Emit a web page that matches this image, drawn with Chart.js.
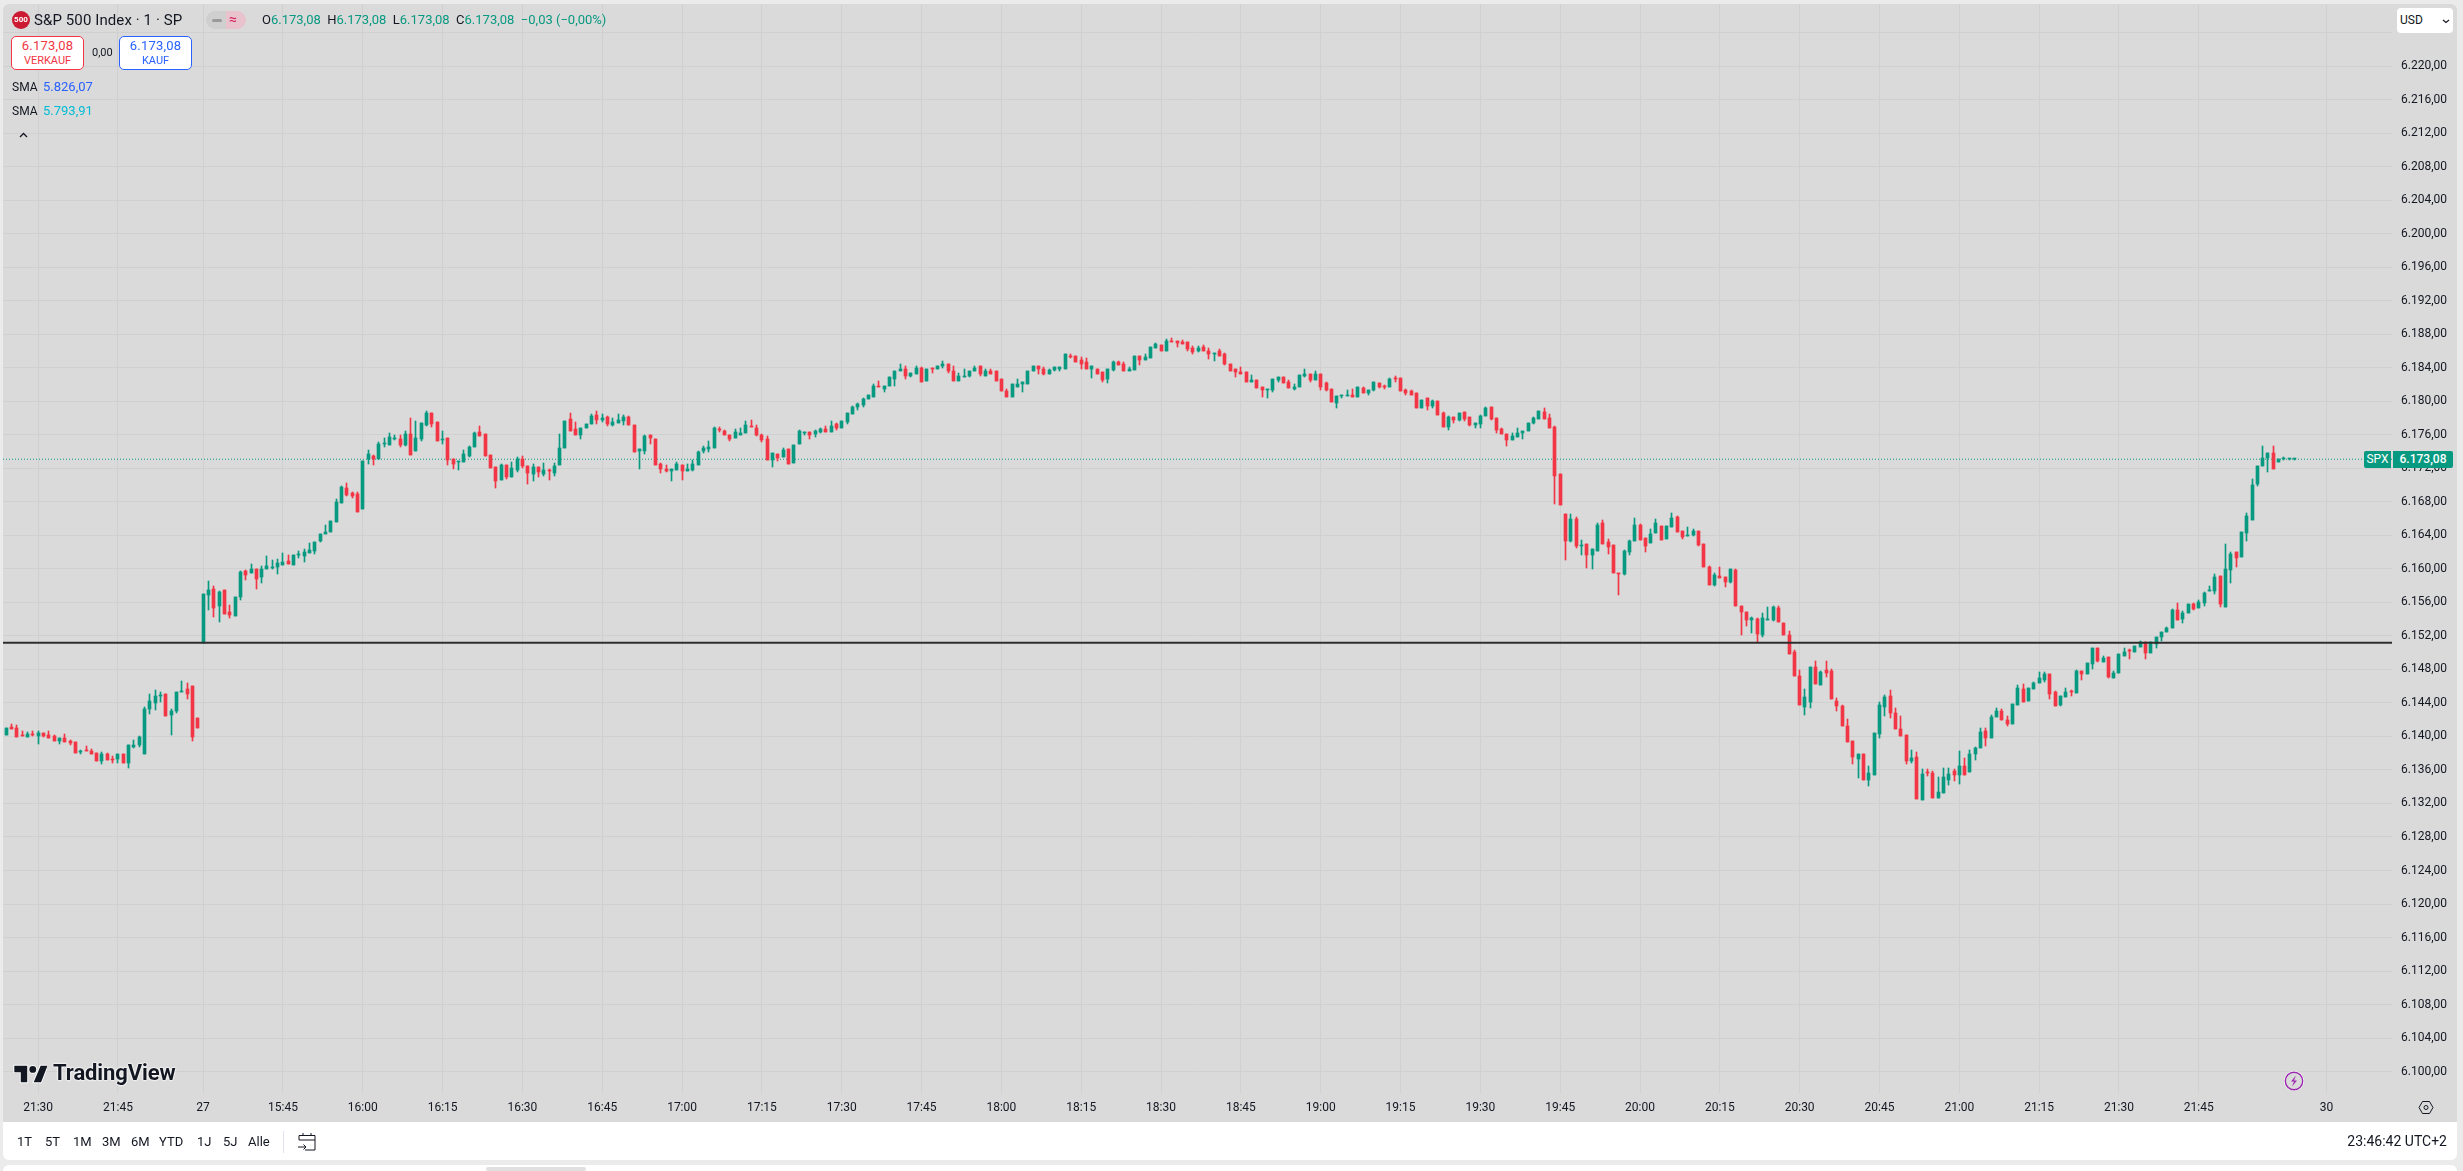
<!DOCTYPE html>
<html lang="de">
<head>
<meta charset="utf-8">
<title>S&amp;P 500 Index</title>
<script src="https://cdn.jsdelivr.net/npm/chart.js@4"></script>
<style>
  html, body { margin: 0; padding: 0; width: 2463px; height: 1171px; overflow: hidden; background: #ebebeb; font-family: Roboto, sans-serif; color: #131722; }
  div, span, svg { position: absolute; white-space: nowrap; }
  span.in { position: static; }
  canvas { position: absolute; left: 0; top: 0; }
  #pane { left: 3px; top: 4px; width: 2454px; height: 1118px; background: #dadada; border-radius: 6px 6px 0 0; }
  #bar { left: 3px; top: 1122px; width: 2454px; height: 38px; background: #fff; border-radius: 0 0 6px 6px; }
  #panel { left: 3px; top: 1165px; width: 2454px; height: 10px; background: #fff; border-radius: 6px 6px 0 0; }
  #thumb { left: 486px; top: 1167px; width: 100px; height: 4px; background: #e0e0e0; border-radius: 2px; }
  .box { width: 71px; height: 32px; background: #fff; border-radius: 5px; border: 1px solid; text-align: center; font-size: 12.5px; line-height: 14px; }
  .box b { font-weight: 400; display: block; margin-top: 2px; font-size: 13px; letter-spacing: .2px; }
  .box i { font-style: normal; display: block; font-size: 11px; margin-top: 1px; }
  .range { top: 1134px; font-size: 13px; line-height: 16px; }
</style>
</head>
<body>
<div id="pane"></div>
<div id="bar"></div>
<div id="panel"></div>
<div id="thumb"></div>
<canvas id="chart" width="2463" height="1171"></canvas>

<div style="left:12px;top:11px;width:18px;height:18px;border-radius:50%;background:#cc1a33;color:#fff;font-size:8px;font-weight:700;line-height:18px;text-align:center">500</div>
<div style="left:34px;top:11px;font-size:15px;line-height:18px;letter-spacing:.1px">S&amp;P 500 Index · 1 · SP</div>
<div style="left:206px;top:11px;width:20px;height:18px;background:#cfcfcf;border-radius:9px 0 0 9px"></div>
<div style="left:226px;top:11px;width:20px;height:18px;background:#e8c3cd;border-radius:0 9px 9px 0"></div>
<div style="left:212px;top:19px;width:10px;height:3px;background:#9a9a9a;border-radius:2px"></div>
<div style="left:229px;top:10px;font-size:14px;line-height:18px;color:#d81e5b">≈</div>
<div style="left:262px;top:12px;font-size:13px;line-height:16px;color:#089981"><span class="in" style="color:#131722">O</span>6.173,08 &nbsp;<span class="in" style="color:#131722">H</span>6.173,08 &nbsp;<span class="in" style="color:#131722">L</span>6.173,08 &nbsp;<span class="in" style="color:#131722">C</span>6.173,08 &nbsp;−0,03 (−0,00%)</div>

<div class="box" style="left:11px;top:36px;border-color:#f23645;color:#f23645"><b>6.173,08</b><i>VERKAUF</i></div>
<div style="left:92px;top:46px;font-size:11px;line-height:14px">0,00</div>
<div class="box" style="left:119px;top:36px;border-color:#2962ff;color:#2962ff"><b>6.173,08</b><i>KAUF</i></div>
<div style="left:12px;top:79px;font-size:12px;line-height:16px">SMA</div>
<div style="left:43px;top:79px;font-size:13px;line-height:16px;color:#2962ff">5.826,07</div>
<div style="left:12px;top:103px;font-size:12px;line-height:16px">SMA</div>
<div style="left:43px;top:103px;font-size:13px;line-height:16px;color:#00bcd4">5.793,91</div>
<svg style="left:19px;top:132px" width="9" height="6" viewBox="0 0 9 6"><path d="M1 5l3.5-3.5L8 5" fill="none" stroke="#131722" stroke-width="1.3"/></svg>

<div style="left:2397px;top:8px;width:56px;height:25px;background:#fff;border-radius:4px"></div>
<div style="left:2400px;top:13px;font-size:12px;line-height:15px;color:#131722">USD</div>
<svg style="left:2442px;top:19px" width="8" height="5" viewBox="0 0 8 5"><path d="M1 1l3 2.5L7 1" fill="none" stroke="#131722" stroke-width="1.2"/></svg>

<div style="left:2364px;top:451px;width:27px;height:17px;background:#089981;border-radius:2px 0 0 2px;color:#fff;font-size:12px;line-height:17px;text-align:center">SPX</div>
<div style="left:2393px;top:451px;width:60px;height:17px;background:#089981;border-radius:0 2px 2px 0;color:#fff;font-size:12px;font-weight:500;line-height:17px;text-align:center">6.173,08</div>

<svg style="left:13px;top:1062px" width="34" height="24" viewBox="0 0 36 26"><path d="M15 4H1v7h7v11h7V4Zm14.5 0L22 22h8L37 4Z" fill="#131722" stroke="#fff" stroke-width="2" paint-order="stroke"/><circle cx="21" cy="8" r="3.7" fill="#131722" stroke="#fff" stroke-width="2" paint-order="stroke"/></svg>
<div style="left:53px;top:1060px;font-size:22px;font-weight:700;line-height:26px;letter-spacing:-.1px;text-shadow:0 0 2px #fff,0 0 2px #fff,0 0 2px #fff">TradingView</div>

<svg style="left:2283px;top:1070px" width="22" height="22" viewBox="0 0 22 22"><circle cx="11" cy="11" r="10" fill="#fff"/><circle cx="11" cy="11" r="8.7" fill="#dadada" stroke="#9c27b0" stroke-width="1.4"/><path d="M13 5.5 8 11.5h3L9 16.5l5-6h-3Z" fill="#9c27b0"/></svg>
<svg style="left:2418px;top:1100px" width="16" height="15" viewBox="0 0 16 15"><path d="M4.5 1.5h7L15 7.5l-3.5 6h-7L1 7.5Z" fill="none" stroke="#131722"/><circle cx="8" cy="7.5" r="2" fill="none" stroke="#131722"/></svg>

<div class="range" style="left:17px">1T</div>
<div class="range" style="left:45px">5T</div>
<div class="range" style="left:73px">1M</div>
<div class="range" style="left:102px">3M</div>
<div class="range" style="left:131px">6M</div>
<div class="range" style="left:159px">YTD</div>
<div class="range" style="left:197px">1J</div>
<div class="range" style="left:223px">5J</div>
<div class="range" style="left:248px">Alle</div>
<div style="left:283px;top:1131px;width:1px;height:22px;background:#e0e3eb"></div>
<svg style="left:297px;top:1131px" width="20" height="21" viewBox="0 0 20 21"><path d="M2 9V4.5h16V19H8M2 9h16M6 2v3M14 2v3M1 16h8M6.5 13.5 9 16l-2.5 2.5" fill="none" stroke="#131722"/></svg>
<div style="right:16px;top:1133px;font-size:14px;line-height:17px">23:46:42 UTC+2</div>

<script>
const GREEN = '#089981', RED = '#f23645'

// 1 minute bars: 21:24-22:00, then 15:30 until the last print
const opens = [
  6140.2,6141.1,6141.0,6140.15,6139.95,6140.3,6140.05,6140.4,6140.2,6140.05,
  6139.45,6139.8,6139.45,6139.35,6138.2,6138.4,6138.3,6138.05,6137.1,6137.9,
  6137.3,6137.3,6137.9,6136.85,6138.7,6139.0,6137.9,6143.3,6144.0,6144.85,
  6145.1,6142.55,6143.05,6145.3,6145.65,6146.0,6142.2,6151.1,6156.85,6157.55,
  6155.55,6157.45,6154.85,6154.35,6156.6,6159.7,6159.5,6159.95,6159.0,6159.95,
  6160.05,6160.2,6160.45,6160.9,6160.45,6161.65,6161.5,6161.85,6162.1,6163.3,
  6164.15,6164.4,6165.55,6167.85,6169.65,6169.05,6168.9,6167.1,6173.1,6173.45,
  6173.1,6174.9,6174.75,6175.5,6175.5,6174.75,6176.1,6174.05,6175.5,6177.15,
  6178.6,6177.5,6175.35,6175.6,6173.1,6172.75,6172.75,6173.45,6174.5,6176.3,
  6176.1,6173.55,6172.15,6170.6,6172.4,6170.95,6171.8,6173.1,6172.25,6171.3,
  6172.15,6171.3,6171.8,6171.4,6172.4,6174.4,6177.85,6176.65,6175.95,6176.8,
  6177.25,6178.35,6177.75,6178.15,6177.15,6177.4,6177.65,6178.15,6177.15,6174.05,
  6174.05,6176.0,6175.5,6172.5,6171.9,6171.7,6171.8,6172.4,6171.7,6171.8,
  6172.4,6174.05,6174.3,6174.45,6176.7,6176.45,6176.0,6175.6,6176.0,6176.2,
  6177.05,6176.8,6176.0,6175.5,6173.0,6173.7,6173.35,6174.3,6172.65,6174.9,
  6176.2,6176.35,6176.1,6176.35,6176.7,6176.35,6177.3,6176.8,6177.55,6178.5,
  6179.3,6179.55,6180.3,6180.55,6181.75,6181.5,6181.85,6182.6,6183.55,6183.9,
  6182.95,6183.3,6184.0,6182.45,6184.0,6183.9,6184.15,6184.5,6183.65,6182.45,
  6182.85,6182.95,6183.55,6184.15,6183.05,6183.65,6183.55,6182.6,6181.25,6180.55,
  6181.75,6182.0,6182.0,6183.55,6184.15,6183.9,6183.2,6183.7,6183.9,6183.9,
  6185.45,6185.35,6184.9,6184.65,6183.8,6183.9,6183.45,6182.6,6183.7,6184.65,
  6184.4,6183.55,6183.7,6185.35,6184.9,6185.1,6186.3,6186.65,6186.05,6187.15,
  6187.15,6187.05,6187.05,6186.3,6185.95,6186.45,6186.05,6185.6,6185.95,6185.6,
  6184.4,6183.8,6183.45,6183.45,6182.35,6182.5,6181.65,6181.3,6181.3,6182.5,
  6182.85,6182.35,6181.4,6181.65,6182.95,6183.2,6182.5,6183.3,6182.15,6181.4,
  6179.75,6180.6,6180.6,6180.8,6180.45,6181.55,6180.95,6181.3,6182.15,6181.75,
  6181.75,6182.75,6182.75,6181.3,6181.2,6180.95,6179.25,6180.35,6179.4,6180.0,
  6178.6,6176.95,6178.15,6177.75,6178.7,6178.15,6177.15,6177.3,6178.25,6179.3,
  6178.0,6176.7,6176.1,6175.4,6175.75,6176.2,6176.45,6177.4,6177.9,6178.7,
  6178.0,6176.95,6171.3,6166.55,6163.3,6165.95,6162.75,6162.95,6161.65,6162.15,
  6165.45,6163.2,6162.85,6159.5,6159.4,6162.0,6163.3,6165.25,6163.7,6163.1,
  6164.3,6165.1,6163.55,6165.0,6166.2,6164.5,6163.9,6164.0,6164.5,6162.95,
  6160.2,6158.05,6159.15,6159.05,6158.45,6159.85,6155.55,6154.85,6153.9,6154.0,
  6152.1,6153.9,6153.9,6155.3,6153.55,6152.1,6150.05,6147.2,6143.5,6144.1,
  6148.3,6146.15,6147.9,6147.8,6144.2,6143.6,6141.25,6139.45,6137.3,6137.9,
  6134.8,6135.4,6140.3,6143.5,6144.8,6142.8,6140.9,6140.15,6137.05,6137.55,
  6132.4,6135.75,6135.6,6132.65,6133.25,6134.8,6135.85,6135.4,6136.45,6135.75,
  6137.9,6138.6,6140.65,6139.8,6142.3,6143.0,6141.95,6141.45,6143.75,6145.65,
  6144.2,6145.65,6146.35,6146.75,6147.45,6145.3,6143.75,6144.7,6145.4,6145.15,
  6147.8,6147.45,6148.65,6150.55,6148.9,6149.45,6146.95,6147.55,6149.55,6150.3,
  6150.05,6150.65,6151.25,6149.95,6151.0,6151.85,6152.45,6152.9,6155.05,6154.0,
  6154.7,6155.8,6155.3,6155.9,6157.35,6157.35,6159.1,6155.4,6159.85,6162.0,
  6161.4,6164.25,6165.8,6170.1,6172.25,6173.2,6173.8,6172.75,6173.1,6173.05,6173.05
]
const highs = [
  6141.0,6141.5,6141.4,6140.65,6140.55,6140.65,6140.65,6140.4,6140.65,6140.15,
  6139.8,6140.3,6139.6,6139.35,6138.4,6138.85,6138.5,6138.05,6138.15,6138.0,
  6137.65,6137.9,6137.9,6139.0,6139.6,6140.05,6143.5,6145.1,6145.55,6145.3,
  6145.1,6143.3,6145.3,6146.6,6146.4,6146.0,6142.2,6156.97,6158.5,6157.95,
  6157.35,6157.45,6155.65,6156.6,6159.7,6159.85,6160.55,6159.95,6160.3,6161.5,
  6161.05,6161.15,6161.85,6161.65,6161.65,6162.1,6162.35,6163.05,6163.2,6164.15,
  6165.2,6165.7,6168.3,6169.85,6170.25,6169.15,6169.15,6172.85,6174.15,6173.55,
  6175.1,6175.6,6176.2,6175.95,6175.95,6176.45,6178.0,6177.65,6177.4,6178.8,
  6178.6,6177.5,6176.45,6175.6,6173.1,6172.85,6174.15,6174.65,6176.3,6177.05,
  6176.1,6173.55,6172.15,6172.5,6172.4,6172.75,6173.35,6173.45,6172.25,6172.5,
  6172.15,6172.6,6171.9,6172.6,6176.1,6177.65,6178.6,6177.5,6176.8,6177.25,
  6178.45,6178.8,6178.5,6178.25,6178.0,6178.5,6178.35,6178.25,6177.15,6174.3,
  6176.0,6176.0,6175.5,6172.65,6172.4,6171.9,6172.75,6172.4,6172.5,6173.0,
  6174.05,6174.65,6175.25,6176.95,6176.95,6176.6,6176.0,6176.7,6176.8,6177.65,
  6177.75,6177.15,6176.1,6175.85,6173.85,6173.7,6174.45,6174.3,6174.8,6176.6,
  6176.35,6176.35,6176.6,6176.8,6177.05,6177.65,6177.4,6177.65,6178.6,6179.45,
  6179.8,6180.4,6180.75,6182.1,6182.45,6181.85,6182.85,6183.65,6184.4,6184.15,
  6183.4,6184.25,6184.1,6183.9,6184.0,6184.25,6184.75,6184.5,6184.15,6183.4,
  6183.8,6183.65,6184.25,6184.25,6183.9,6183.8,6183.55,6182.6,6181.4,6182.1,
  6182.6,6182.25,6183.65,6184.15,6184.15,6184.05,6183.9,6184.05,6184.05,6185.6,
  6185.6,6185.45,6185.25,6185.1,6184.15,6183.9,6183.45,6183.8,6184.75,6184.75,
  6184.65,6184.05,6185.45,6185.35,6185.6,6186.45,6187.0,6186.65,6187.4,6187.6,
  6187.15,6187.25,6187.05,6186.55,6186.55,6186.65,6186.3,6185.7,6186.2,6185.7,
  6184.5,6183.8,6184.05,6183.45,6183.1,6182.5,6181.65,6181.4,6182.6,6182.85,
  6182.85,6182.5,6182.0,6183.1,6183.8,6183.3,6183.55,6183.3,6182.35,6181.4,
  6180.6,6180.8,6181.3,6181.4,6181.65,6181.75,6181.3,6182.35,6182.15,6181.9,
  6182.75,6182.95,6182.75,6181.4,6181.3,6180.95,6180.2,6180.35,6180.1,6180.0,
  6178.7,6178.25,6178.15,6178.6,6178.7,6178.15,6177.4,6178.35,6179.3,6179.3,
  6178.0,6176.8,6176.1,6176.2,6176.8,6176.45,6177.4,6178.15,6178.85,6179.2,
  6178.5,6177.05,6171.3,6166.55,6166.55,6166.2,6163.45,6162.95,6162.35,6165.45,
  6165.85,6163.55,6162.85,6159.5,6162.25,6163.45,6166.05,6165.35,6163.7,6164.75,
  6165.95,6165.1,6165.1,6166.65,6166.3,6164.5,6165.0,6164.75,6164.5,6162.95,
  6160.35,6159.5,6160.2,6159.05,6160.0,6160.0,6155.55,6154.85,6154.25,6154.15,
  6154.75,6155.45,6155.55,6155.55,6153.55,6152.6,6150.3,6147.9,6145.65,6148.3,
  6149.0,6147.8,6149.0,6148.05,6144.6,6143.75,6142.05,6139.45,6137.9,6137.9,
  6136.45,6140.4,6144.1,6144.95,6145.55,6143.4,6142.45,6140.15,6138.35,6138.15,
  6136.1,6136.1,6135.85,6135.15,6136.2,6136.2,6136.1,6138.25,6137.4,6138.35,
  6138.75,6141.0,6141.0,6142.55,6143.4,6143.25,6142.45,6143.85,6146.15,6146.25,
  6145.75,6146.5,6147.7,6147.7,6147.45,6145.4,6144.8,6145.75,6145.55,6147.9,
  6147.8,6148.75,6150.55,6150.55,6149.6,6149.45,6147.8,6149.85,6150.55,6150.4,
  6150.85,6151.35,6151.25,6151.25,6151.85,6152.45,6153.05,6155.2,6155.9,6154.95,
  6155.8,6155.9,6156.25,6157.2,6157.95,6159.35,6159.1,6162.95,6162.0,6162.0,
  6164.4,6166.65,6170.7,6172.25,6174.65,6173.8,6174.65,6173.1,6173.3,6173.15,6173.15
]
const lows = [
  6140.2,6140.9,6139.9,6140.0,6139.95,6140.05,6139.1,6139.95,6139.8,6139.45,
  6139.1,6139.35,6139.0,6138.05,6137.9,6138.3,6137.9,6137.1,6136.7,6137.2,
  6136.85,6136.85,6136.85,6136.25,6138.65,6138.75,6137.9,6142.7,6143.15,6144.1,
  6142.45,6140.2,6142.8,6145.3,6144.5,6139.45,6141.0,6151.1,6155.05,6154.25,
  6153.65,6154.6,6154.1,6154.35,6156.25,6158.65,6159.5,6157.55,6158.35,6159.95,
  6159.95,6159.35,6160.45,6160.55,6160.45,6161.25,6160.8,6161.85,6161.75,6163.2,
  6164.15,6164.4,6165.55,6167.85,6168.7,6168.45,6166.75,6167.1,6172.5,6172.4,
  6173.1,6174.55,6174.75,6175.35,6174.5,6174.65,6173.55,6174.05,6175.25,6177.05,
  6176.9,6175.25,6174.9,6172.4,6171.9,6171.8,6172.75,6173.35,6174.5,6175.85,
  6173.45,6172.0,6169.6,6170.6,6170.7,6170.95,6171.55,6172.0,6170.1,6170.45,
  6170.95,6171.05,6170.6,6171.05,6172.4,6174.4,6176.45,6175.95,6175.5,6176.8,
  6177.25,6177.25,6177.5,6177.05,6177.05,6177.4,6177.15,6177.15,6173.95,6171.9,
  6173.7,6174.9,6172.4,6171.45,6171.55,6170.5,6171.8,6170.6,6171.7,6171.7,
  6172.4,6173.85,6173.95,6174.45,6176.35,6176.0,6175.25,6175.6,6176.0,6176.2,
  6176.95,6175.85,6175.15,6173.0,6172.15,6172.9,6173.35,6172.5,6172.65,6174.9,
  6176.0,6175.5,6175.75,6176.2,6176.35,6176.35,6176.6,6176.8,6177.3,6178.5,
  6178.95,6179.3,6180.3,6180.55,6181.65,6181.05,6181.85,6181.85,6183.55,6182.7,
  6182.85,6183.3,6182.35,6182.45,6183.4,6183.8,6184.0,6183.4,6182.45,6182.45,
  6182.85,6182.85,6183.55,6183.05,6183.05,6183.2,6182.45,6181.25,6180.45,6180.55,
  6181.65,6181.05,6182.0,6183.55,6183.3,6183.1,6183.2,6183.55,6183.55,6183.8,
  6185.1,6184.65,6183.9,6183.8,6182.75,6183.3,6182.25,6182.15,6183.55,6184.3,
  6183.55,6183.55,6183.7,6184.3,6184.9,6185.1,6186.3,6185.95,6186.05,6187.05,
  6186.45,6186.8,6186.05,6185.6,6185.85,6185.95,6185.0,6184.75,6185.35,6184.3,
  6183.55,6182.85,6183.3,6182.35,6182.35,6181.55,6180.45,6180.35,6181.05,6182.25,
  6182.15,6181.55,6181.3,6181.65,6182.85,6182.25,6182.5,6181.3,6181.2,6179.85,
  6179.15,6180.35,6180.6,6180.45,6180.45,6180.95,6180.8,6181.2,6181.55,6181.4,
  6181.75,6182.25,6181.2,6180.8,6180.8,6179.25,6179.25,6179.0,6179.15,6178.4,
  6176.95,6176.6,6177.4,6177.65,6177.65,6177.05,6176.8,6176.8,6178.25,6177.75,
  6176.2,6176.1,6174.65,6175.4,6175.75,6175.5,6176.45,6177.3,6177.9,6177.9,
  6176.8,6167.75,6167.6,6161.05,6163.2,6162.5,6161.65,6160.1,6160.0,6162.15,
  6162.95,6161.75,6159.5,6156.9,6159.25,6161.65,6163.3,6163.45,6162.0,6163.1,
  6164.3,6163.45,6163.55,6165.0,6164.4,6163.55,6163.9,6163.9,6162.75,6160.2,
  6158.05,6157.95,6158.9,6157.85,6158.3,6155.55,6152.1,6153.15,6152.35,6151.25,
  6151.85,6153.9,6153.75,6153.65,6152.1,6149.85,6147.2,6143.75,6142.55,6143.4,
  6146.25,6146.15,6147.1,6144.45,6143.0,6141.25,6139.3,6136.7,6135.0,6134.8,
  6134.05,6135.4,6139.8,6142.45,6142.2,6140.9,6140.05,6136.7,6136.8,6132.5,
  6132.4,6135.25,6132.65,6132.65,6133.25,6134.2,6134.65,6134.3,6135.4,6135.75,
  6137.15,6138.6,6138.85,6139.8,6142.3,6141.95,6141.25,6141.45,6143.75,6144.1,
  6144.2,6145.65,6146.35,6146.5,6144.45,6143.6,6143.6,6144.7,6144.8,6145.15,
  6146.75,6147.45,6148.05,6148.9,6148.9,6146.95,6146.95,6147.55,6149.55,6149.2,
  6150.05,6150.65,6149.2,6149.95,6150.55,6151.35,6152.45,6152.9,6153.85,6153.5,
  6154.7,6155.05,6155.3,6155.55,6157.35,6156.95,6155.4,6155.4,6158.3,6160.2,
  6161.4,6163.3,6165.8,6169.85,6172.25,6171.55,6171.9,6172.75,6173.0,6173.0,6173.0
]
const closes = [
  6141.0,6140.9,6139.9,6140.05,6140.3,6140.15,6140.4,6140.05,6139.8,6139.45,
  6139.8,6139.35,6139.2,6138.05,6138.3,6138.3,6137.9,6137.1,6137.9,6137.2,
  6137.2,6137.9,6136.85,6139.0,6139.0,6139.95,6143.3,6144.25,6144.85,6144.95,
  6142.45,6143.05,6145.3,6145.45,6145.1,6139.95,6141.0,6156.97,6157.45,6155.3,
  6157.2,6154.6,6154.45,6156.6,6159.6,6159.25,6159.95,6158.75,6159.95,6160.3,
  6160.25,6160.7,6160.8,6160.55,6161.65,6161.75,6162.0,6162.25,6163.2,6164.15,
  6164.4,6165.7,6167.95,6169.75,6168.8,6168.7,6166.75,6172.85,6173.7,6173.1,
  6174.9,6175.0,6175.7,6175.6,6174.75,6176.1,6173.55,6175.6,6177.4,6178.6,
  6177.25,6175.25,6175.5,6173.0,6172.5,6172.85,6173.7,6174.5,6176.2,6175.85,
  6173.45,6172.0,6170.45,6172.4,6170.95,6172.0,6173.1,6172.25,6171.4,6172.15,
  6171.55,6171.8,6171.65,6172.25,6174.4,6177.65,6176.45,6175.95,6176.8,6177.25,
  6178.2,6177.75,6178.0,6177.3,6177.55,6177.75,6178.15,6177.15,6173.95,6174.3,
  6175.85,6175.6,6172.4,6171.9,6171.7,6171.9,6172.5,6171.7,6171.9,6172.5,
  6173.95,6174.45,6174.55,6176.8,6176.6,6176.0,6175.5,6176.35,6176.2,6177.15,
  6176.95,6176.0,6175.4,6173.0,6173.85,6173.25,6174.2,6172.5,6174.8,6176.45,
  6176.35,6176.0,6176.45,6176.7,6176.35,6177.05,6176.8,6177.65,6178.6,6179.3,
  6179.7,6180.3,6180.75,6181.85,6181.65,6181.85,6182.85,6183.65,6183.9,6182.95,
  6183.4,6184.0,6182.35,6183.8,6183.9,6184.25,6184.5,6183.55,6182.45,6182.95,
  6182.95,6183.65,6184.0,6183.2,6183.65,6183.3,6182.45,6181.25,6180.45,6182.0,
  6182.1,6182.25,6183.65,6184.15,6183.8,6183.2,6183.7,6184.05,6184.05,6185.6,
  6185.25,6184.65,6184.5,6183.8,6184.15,6183.3,6182.5,6183.8,6184.65,6184.3,
  6183.55,6183.9,6185.35,6184.9,6185.25,6186.45,6186.8,6185.95,6187.15,6187.05,
  6186.9,6186.8,6186.2,6185.85,6186.3,6185.95,6185.6,6185.7,6185.35,6184.4,
  6183.55,6183.45,6183.3,6182.35,6182.5,6181.55,6181.3,6181.4,6182.6,6182.85,
  6182.15,6181.55,6181.75,6183.1,6183.2,6182.5,6183.3,6181.75,6181.3,6179.85,
  6180.6,6180.7,6180.8,6180.45,6181.65,6180.95,6181.3,6182.25,6181.65,6181.65,
  6182.6,6182.6,6181.2,6180.95,6180.8,6179.25,6180.2,6179.4,6180.0,6178.4,
  6176.95,6178.15,6177.75,6178.6,6177.9,6177.15,6177.4,6178.25,6179.2,6177.9,
  6176.6,6176.1,6175.4,6175.85,6176.2,6176.45,6177.4,6178.0,6178.85,6177.9,
  6176.8,6171.1,6167.6,6163.3,6165.95,6162.75,6162.85,6161.65,6162.35,6165.25,
  6162.95,6162.6,6159.5,6159.4,6162.15,6163.3,6165.25,6163.45,6162.75,6164.15,
  6165.45,6163.45,6165.1,6166.05,6164.4,6163.8,6164.0,6164.5,6162.85,6160.2,
  6158.05,6159.25,6158.9,6158.45,6160.0,6155.55,6154.85,6153.9,6154.15,6152.2,
  6154.15,6154.0,6155.45,6153.65,6152.1,6149.85,6147.2,6143.75,6144.7,6148.3,
  6146.25,6147.7,6147.55,6144.45,6143.6,6141.25,6139.3,6137.55,6137.9,6134.8,
  6135.6,6140.4,6143.75,6144.7,6142.8,6140.9,6140.05,6137.05,6137.4,6132.5,
  6135.5,6135.6,6132.65,6133.35,6135.15,6135.5,6135.4,6136.45,6135.4,6137.9,
  6138.6,6140.5,6139.8,6142.3,6143.0,6141.95,6141.45,6143.85,6145.75,6144.1,
  6145.75,6146.35,6146.95,6147.45,6145.05,6143.6,6144.8,6145.3,6145.3,6147.8,
  6147.45,6148.75,6150.55,6149.0,6149.35,6147.1,6147.55,6149.85,6150.05,6150.15,
  6150.75,6151.25,6149.95,6151.25,6151.85,6152.45,6152.9,6155.05,6153.85,6154.7,
  6155.8,6155.2,6156.0,6157.1,6157.45,6159.0,6155.8,6159.95,6161.75,6161.25,
  6164.4,6166.3,6170.0,6172.25,6173.2,6173.8,6171.9,6173.1,6173.2,6173.1,6173.08
]

const lastPrice = 6173.08
const drawnLevel = 6151.18

const xTickBars = [6,21,37,52,67,82,97,112,127,142,157,172,187,202,217,232,247,262,277,292,307,322,337,352,367,382,397,412,436]
const xTickLabels = ['21:30','21:45','27','15:45','16:00','16:15','16:30','16:45','17:00','17:15','17:30','17:45','18:00','18:15','18:30','18:45','19:00','19:15','19:30','19:45','20:00','20:15','20:30','20:45','21:00','21:15','21:30','21:45','30']
const yTickValues = [6100,6104,6108,6112,6116,6120,6124,6128,6132,6136,6140,6144,6148,6152,6156,6160,6164,6168,6172,6176,6180,6184,6188,6192,6196,6200,6204,6208,6212,6216,6220,6224]

const barColors = opens.map((o, i) => closes[i] >= o ? GREEN : RED)
const axisFont = { family: 'Roboto', size: 12 }
const formatPrice = v => v.toLocaleString('de-DE', { minimumFractionDigits: 2, maximumFractionDigits: 2 })

// TradingView snaps candles to whole pixels, so do the same after the scales placed them
const snapBars = {
  id: 'snapBars',
  afterDatasetsUpdate(chart){
    chart.data.datasets.forEach((ds, n) => {
      if (ds.type !== 'bar') return
      for (const el of chart.getDatasetMeta(n).data) {
        el.x = Math.round(el.x - 0.5) + 0.5
        el.y = Math.round(el.y)
        el.base = Math.round(el.base)
        if (el.y === el.base) el.y -= 1
      }
    })
  }
}

// the half label heights chart.js reserves would push the plot area off the picture's grid
const noScalePadding = s => { s.paddingTop = s.paddingBottom = s.paddingLeft = s.paddingRight = 0 }

new Chart(document.getElementById('chart'), {
  data: {
    datasets: [
      {
        type: 'line', order: 0, label: 'Level',
        data: [{x: -0.6, y: drawnLevel}, {x: 448.3, y: drawnLevel}],
        borderColor: '#2e2e2e', borderWidth: 2, pointRadius: 0
      },
      {
        type: 'bar', order: 1, label: 'Body',
        data: opens.map((o, i) => ({x: i, y: [o, closes[i]]})),
        backgroundColor: barColors, barThickness: 3, grouped: false, borderWidth: 0
      },
      {
        type: 'bar', order: 2, label: 'Wick',
        data: lows.map((l, i) => ({x: i, y: [l, highs[i]]})),
        backgroundColor: barColors, barThickness: 1, grouped: false, borderWidth: 0
      },
      {
        type: 'line', order: 3, label: 'Last',
        data: [{x: -0.6, y: lastPrice}, {x: 448.3, y: lastPrice}],
        borderColor: GREEN, borderWidth: 1, borderDash: [1, 2], pointRadius: 0
      }
    ]
  },
  options: {
    responsive: false,
    animation: false,
    layout: { padding: { left: 3, top: 4, right: 6, bottom: 49 } },
    plugins: { legend: { display: false }, tooltip: { enabled: false } },
    scales: {
      x: {
        type: 'linear', min: -0.6, max: 448.3, offset: false,
        grid: { offset: false, color: '#d0d0d0', drawTicks: false },
        border: { display: false },
        ticks: {
          autoSkip: false, maxRotation: 0, padding: 8, color: '#131722', font: axisFont,
          callback: v => xTickLabels[xTickBars.indexOf(v)]
        },
        afterBuildTicks: s => { s.ticks = xTickBars.map(v => ({value: v})) },
        afterFit: s => { s.height = 29; noScalePadding(s) }
      },
      y: {
        type: 'linear', position: 'right', min: 6097.45, max: 6227.4,
        grid: { color: '#d0d0d0', drawTicks: false },
        border: { display: false },
        ticks: {
          padding: 9, color: '#131722', font: axisFont,
          callback: v => v > 6220 ? '' : formatPrice(v) // 6.224 sits behind the USD button
        },
        afterBuildTicks: s => { s.ticks = yTickValues.map(v => ({value: v})) },
        afterFit: s => { s.width = 65; noScalePadding(s) }
      }
    }
  },
  plugins: [snapBars]
})
</script>
</body>
</html>
